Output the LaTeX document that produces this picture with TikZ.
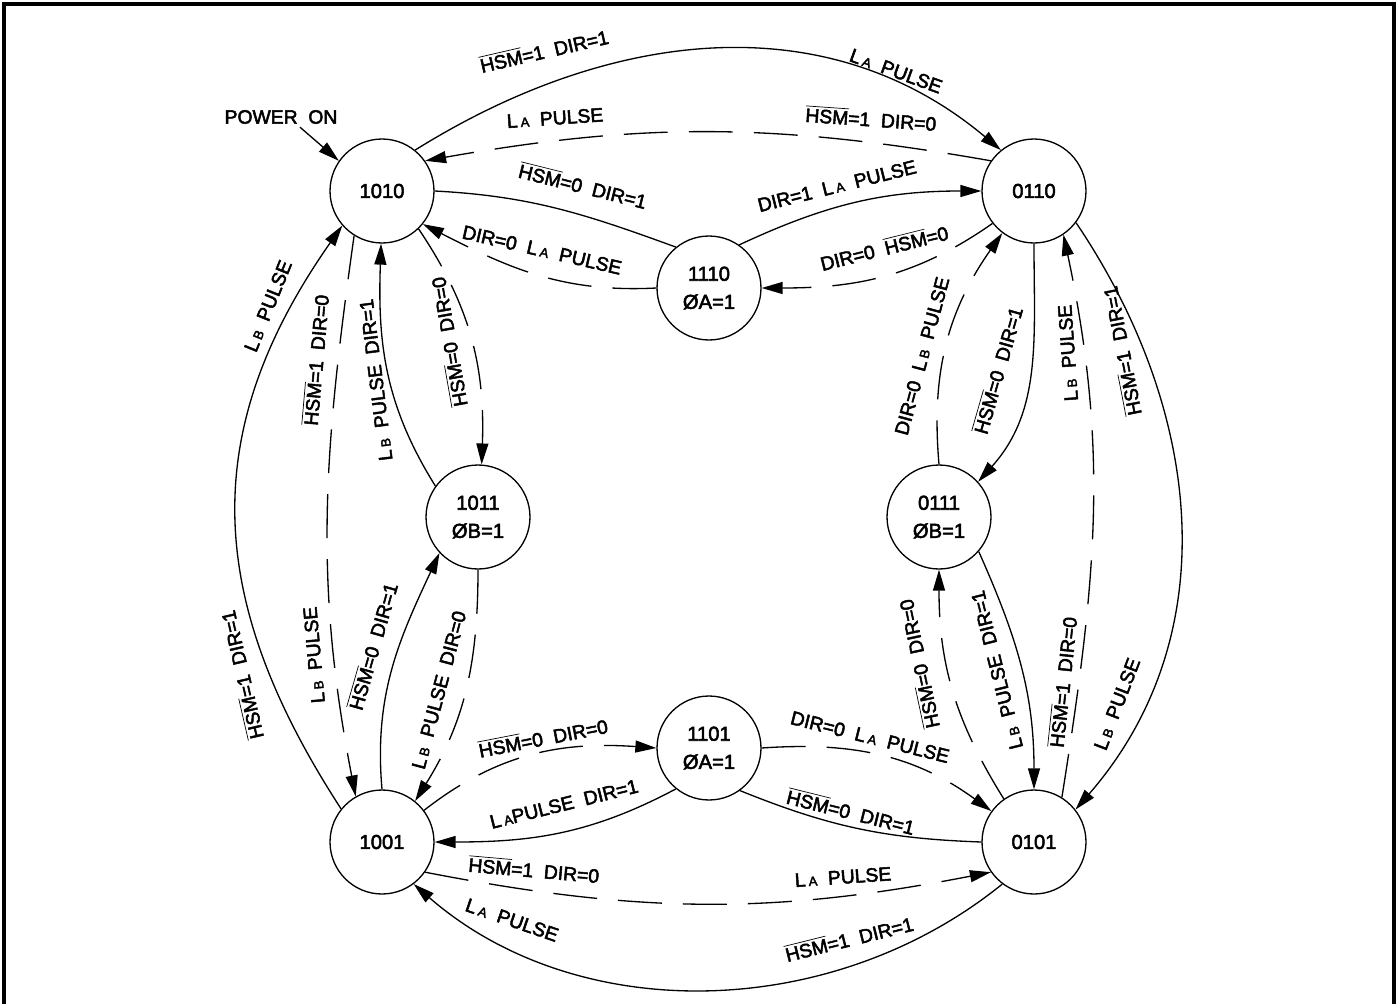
\documentclass[tikz,border=0pt]{standalone}
\usepackage{fontspec}
\setmainfont{Liberation Sans}[BoldFont={Liberation Sans}, BoldFeatures={FakeBold=2.6}]
\usetikzlibrary{arrows.meta}

\newcommand{\hsm}{$\overline{\mbox{HSM}}$}
\newcommand{\LsubA}{L\hspace{0.15em}{\fontsize{7.5}{8}\selectfont A}}
\newcommand{\LsubB}{L\hspace{0.15em}{\fontsize{7.5}{8}\selectfont B}}

\begin{document}
\begin{tikzpicture}[x=0.02cm, y=0.02cm]

\tikzset{state/.style = {shape=circle, draw, line width=0.75pt, minimum size=2.08cm, inner sep=0pt, align=center, font=\bfseries\fontsize{11.5}{16}\selectfont}}
\tikzset{edge/.style = {->, > = {Triangle[length=0.42cm, width=0.24cm]}, line width=0.75pt}}
\tikzset{longdash/.style = {dash pattern=on 25pt off 12pt}}
\tikzset{lbl/.style = {font=\bfseries\fontsize{11}{13}\selectfont, inner sep=0pt}}

\useasboundingbox (0,0) rectangle (1400,-1004);
\draw[line width=1.9pt] (4,-1004) -- (4,-4) -- (1394,-4) -- (1394,-1004);

\node[state] (s1010) at (382,-191) {1010};
\node[state] (s0110) at (1034,-191) {0110};
\node[state] (s1110) at (709,-288) {1110\\ØA=1};

\node[state] (s1011) at (478,-517) {1011\\ØB=1};
\node[state] (s0111) at (939,-517) {0111\\ØB=1};

\node[state] (s1101) at (709,-748) {1101\\ØA=1};
\node[state] (s1001) at (382,-842) {1001};
\node[state] (s0101) at (1034,-842) {0101};

\node[lbl] (pwr) at (281,-117) {POWER~ ON};
\draw[edge] ([xshift=0.38cm, yshift=-0.06cm]pwr.south) -- (s1010.145);

% top
\draw[edge] (s1010.51) to[out=32, in=140] (s0110.129);
\draw[edge, longdash] (s0110.145) to[out=170, in=10] (s1010.35);
\draw[line width=0.75pt] (s1010.0) to[out=-3, in=160] (s1110.129);
\draw[edge] (s1110.55) to[out=25, in=180] (s0110.180);
\draw[edge, longdash] (s0110.218) to[out=215, in=0] (s1110.0);
\draw[edge, longdash] (s1110.180) to[out=183, in=-27] (s1010.-39);

\node[lbl, rotate=13] (t1) at (544,-50) {\hsm=1~ DIR=1};
\node[lbl, rotate=-20] (t2) at (896,-71) {\LsubA~ PULSE};
\node[lbl, rotate=4] (t3) at (555,-118) {\LsubA~ PULSE};
\node[lbl, rotate=-4] (t4) at (871,-118) {\hsm=1~ DIR=0};
\node[lbl, rotate=-14] (t5) at (583,-185) {\hsm=0~ DIR=1};
\node[lbl, rotate=14] (t6) at (837,-186) {DIR=1~ \LsubA~ PULSE};
\node[lbl, rotate=-13] (t7) at (542,-250) {DIR=0~ \LsubA~ PULSE};
\node[lbl, rotate=14] (t8) at (884,-247) {DIR=0~ \hsm=0};

% left
\draw[edge] (s1001.141) to[out=123, in=235, looseness=1.1] (s1010.221);
\draw[edge, longdash] (s1010.238) to[out=262, in=101] (s1001.120);
\draw[edge] (s1011.144) to[out=122, in=268] (s1010.269);
\draw[edge, longdash] (s1010.314) to[out=-56, in=88] (s1011.86);
\draw[edge] (s1001.90) to[out=95, in=245] (s1011.223);
\draw[edge, longdash] (s1011.270) to[out=270, in=58] (s1001.51);

\node[lbl, rotate=68] (t17) at (268,-306) {\LsubB~ PULSE};
\node[lbl, rotate=103] (t18) at (241,-675) {\hsm=1~ DIR=1};
\node[lbl, rotate=85] (t19) at (315,-360) {\hsm=1~ DIR=0};
\node[lbl, rotate=95] (t20) at (314,-655) {\LsubB~ PULSE};
\node[lbl, rotate=97] (t21) at (376,-380) {\LsubB~ PULSE~ DIR=1};
\node[lbl, rotate=100] (t22) at (448,-342) {\hsm=0~ DIR=0};
\node[lbl, rotate=74] (t23) at (372,-646) {\hsm=0~ DIR=1};
\node[lbl, rotate=75] (t24) at (439,-690) {\LsubB~ PULSE~ DIR=0};

% bottom
\draw[edge, longdash] (s1001.37) to[out=38, in=176] (s1101.180);
\draw[edge] (s1101.231) to[out=208, in=0] (s1001.0);
\draw[edge, longdash] (s1001.-35) to[out=-11, in=191] (s0101.215);
\draw[edge] (s0101.233) to[out=219, in=319, looseness=0.95] (s1001.307);
\draw[edge, longdash] (s1101.0) to[out=4, in=144] (s0101.144);
\draw[line width=0.75pt] (s0101.180) to[out=178, in=338] (s1101.306);

\node[lbl, rotate=11] (t9) at (543,-737) {\hsm=0~ DIR=0};
\node[lbl, rotate=14] (t10) at (564,-804) {\LsubA PULSE~ DIR=1};
\node[lbl, rotate=-5] (t11) at (534,-869) {\hsm=1~ DIR=0};
\node[lbl, rotate=4] (t12) at (843,-877) {\LsubA~ PULSE};
\node[lbl, rotate=-19] (t13) at (512,-920) {\LsubA~ PULSE};
\node[lbl, rotate=14] (t14) at (849,-938) {\hsm=1~ DIR=1};
\node[lbl, rotate=-14] (t15) at (870,-737) {DIR=0~ \LsubA~ PULSE};
\node[lbl, rotate=-14] (t16) at (851,-811) {\hsm=0~ DIR=1};

% right
\draw[edge] (s0110.-37) to[out=-56, in=49] (s0101.38);
\draw[edge, longdash] (s0101.58) to[out=81, in=-78] (s0110.-56);
\draw[edge] (s0110.270) to[out=270, in=48] (s0111.42);
\draw[edge, longdash] (s0111.90) to[out=95, in=235] (s0110.233);
\draw[edge, longdash] (s0101.125) to[out=122, in=270] (s0111.270);
\draw[edge] (s0111.-41) to[out=-66, in=90] (s0101.90);

\node[lbl, rotate=101] (t25) at (1121,-351) {\hsm=1~ DIR=1};
\node[lbl, rotate=69] (t26) at (1117,-704) {\LsubB~ PULSE};
\node[lbl, rotate=94] (t27) at (1068,-353) {\LsubB~ PULSE};
\node[lbl, rotate=84] (t28) at (1062,-682) {\hsm=1~ DIR=0};
\node[lbl, rotate=74] (t29) at (997,-370) {\hsm=0~ DIR=1};
\node[lbl, rotate=75] (t30) at (922,-356) {DIR=0~ \LsubB~ PULSE};
\node[lbl, rotate=102] (t31) at (918,-664) {\hsm=0~ DIR=0};
\node[lbl, rotate=104] (t32) at (997,-670) {\LsubB~ PULSE~ DIR=1};

\end{tikzpicture}
\end{document}
